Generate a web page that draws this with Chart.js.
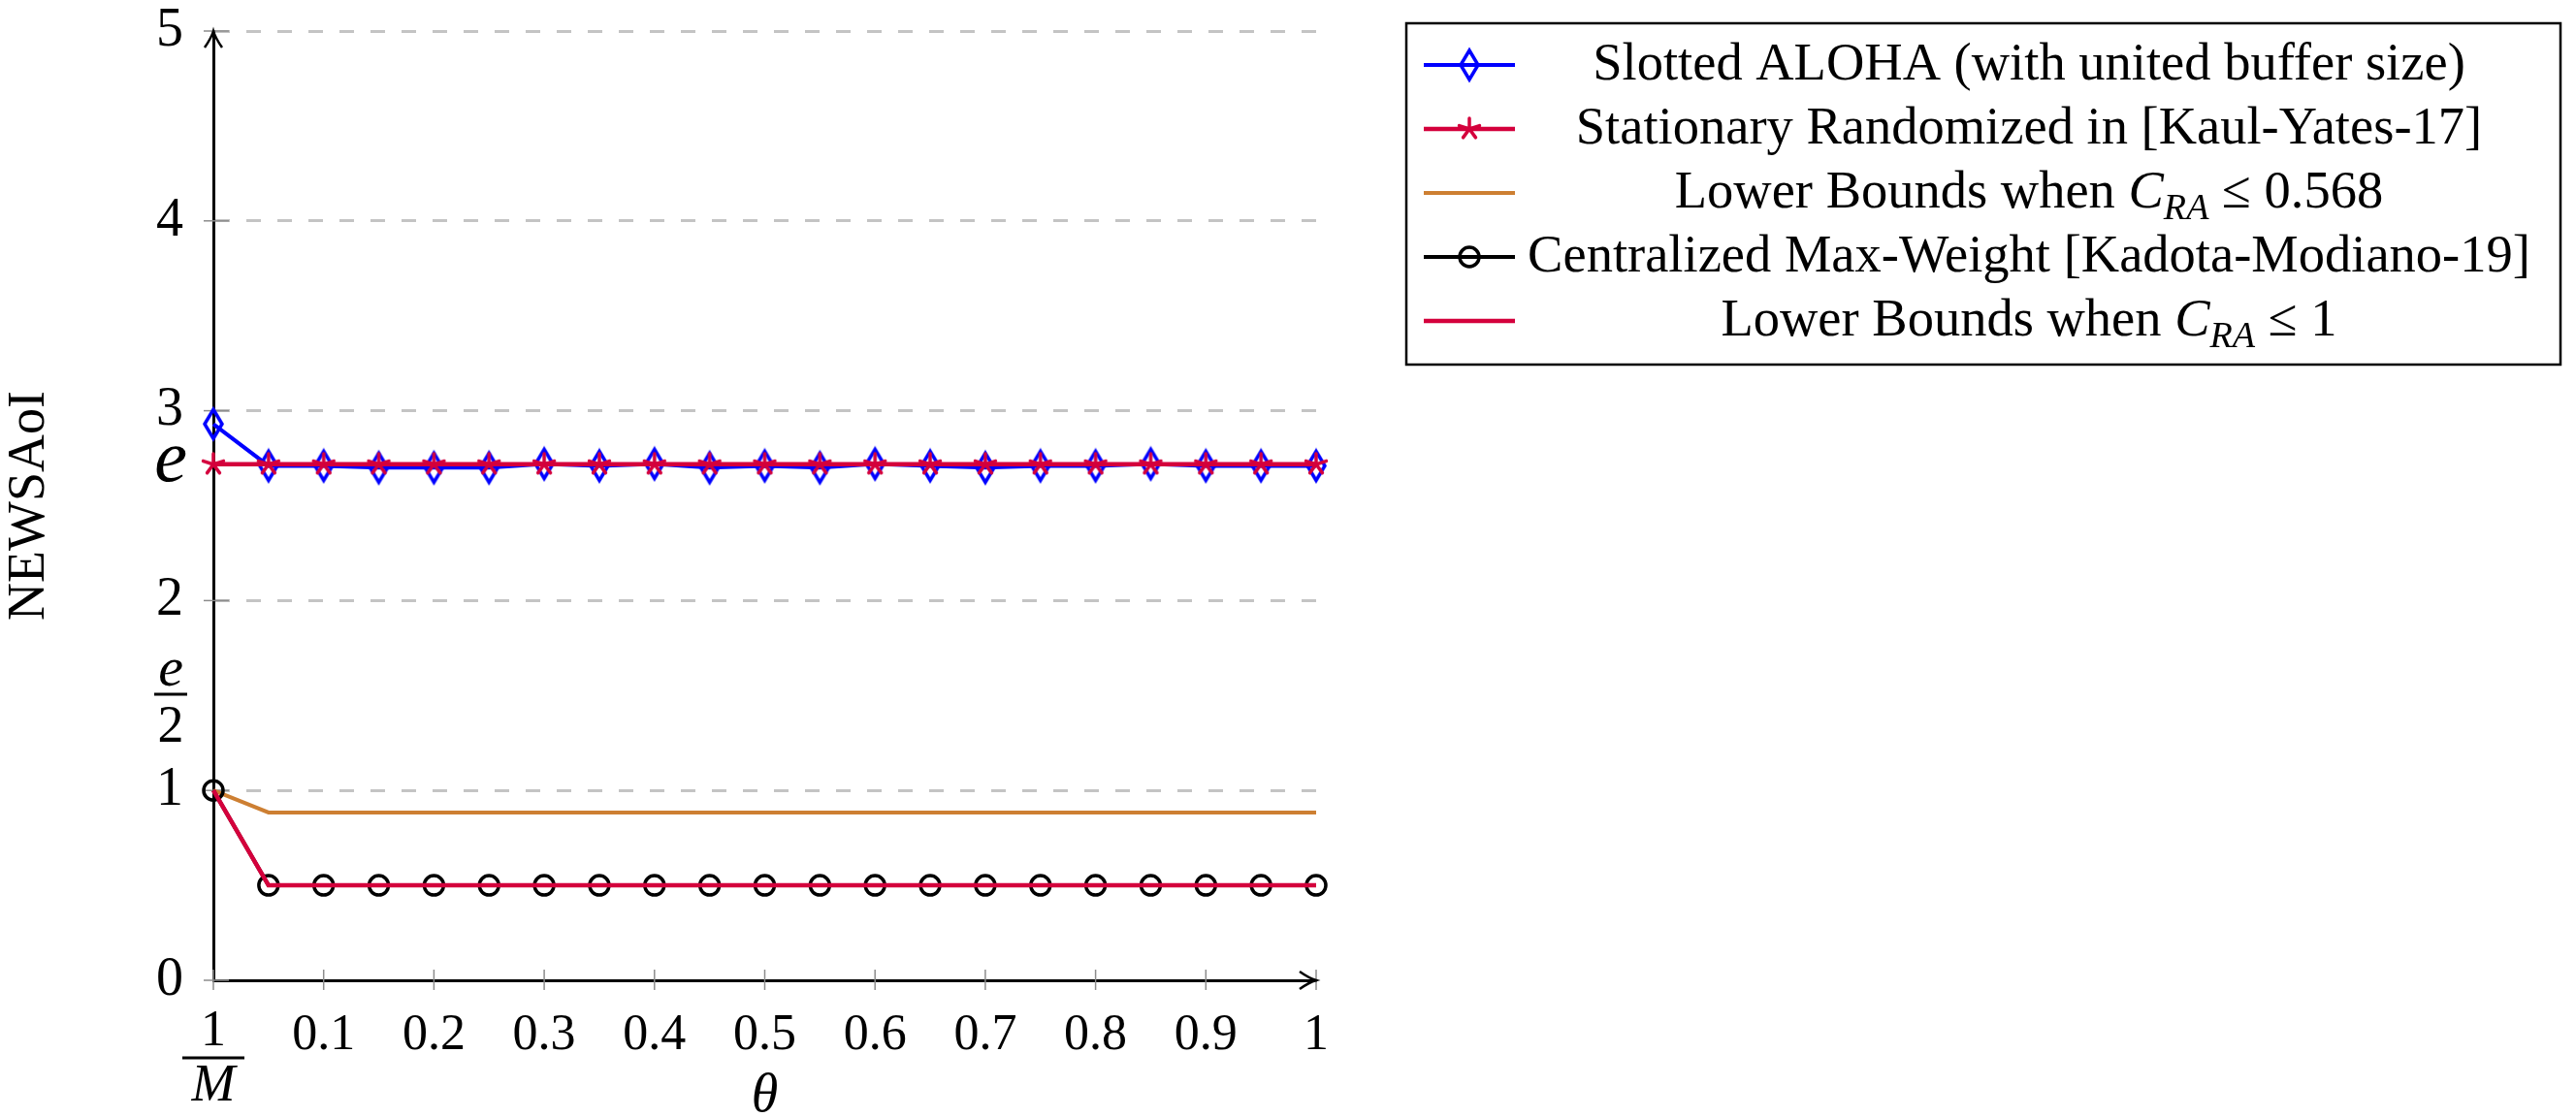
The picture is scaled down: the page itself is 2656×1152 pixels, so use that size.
<!DOCTYPE html>
<html>
<head>
<meta charset="utf-8">
<script src="https://cdn.jsdelivr.net/npm/chart.js@4.4.0/dist/chart.umd.min.js"></script>
<style>
  html, body { margin: 0; padding: 0; background: #fff; }
</style>
</head>
<body>
<canvas id="chart" width="2656" height="1152"></canvas>
<script>
const E = Math.E

// theta values (first point is 1/M, drawn at the origin)
const thetas = [0, 0.05, 0.1, 0.15, 0.2, 0.25, 0.3, 0.35, 0.4, 0.45, 0.5, 0.55, 0.6, 0.65, 0.7, 0.75, 0.8, 0.85, 0.9, 0.95, 1]

const slottedAloha = [2.93, 2.71, 2.71, 2.70, 2.70, 2.70, 2.72, 2.71, 2.72, 2.70, 2.71, 2.70, 2.72, 2.71, 2.70, 2.71, 2.71, 2.72, 2.71, 2.71, 2.71]
const stationaryRandomized = [2.718, 2.718, 2.718, 2.718, 2.718, 2.718, 2.718, 2.718, 2.718, 2.718, 2.718, 2.718, 2.718, 2.718, 2.718, 2.718, 2.718, 2.718, 2.718, 2.718, 2.718]
const lowerBound0568 = [1, 0.884, 0.884, 0.884, 0.884, 0.884, 0.884, 0.884, 0.884, 0.884, 0.884, 0.884, 0.884, 0.884, 0.884, 0.884, 0.884, 0.884, 0.884, 0.884, 0.884]
const maxWeight = [1, 0.5, 0.5, 0.5, 0.5, 0.5, 0.5, 0.5, 0.5, 0.5, 0.5, 0.5, 0.5, 0.5, 0.5, 0.5, 0.5, 0.5, 0.5, 0.5, 0.5]
const lowerBound1 = [1, 0.5, 0.5, 0.5, 0.5, 0.5, 0.5, 0.5, 0.5, 0.5, 0.5, 0.5, 0.5, 0.5, 0.5, 0.5, 0.5, 0.5, 0.5, 0.5, 0.5]

const xTicks = [0, 0.1, 0.2, 0.3, 0.4, 0.5, 0.6, 0.7, 0.8, 0.9, 1]
const yTicks = [0, 1, E / 2, 2, E, 3, 4, 5]

const seriesNames = [
    'Slotted ALOHA (with united buffer size)',
    'Stationary Randomized in [Kaul-Yates-17]',
    'Lower Bounds when C_RA ≤ 0.568',
    'Centralized Max-Weight [Kadota-Modiano-19]',
    'Lower Bounds when C_RA ≤ 1'
]

const BLUE = '#0000ff'
const CRIMSON = '#d4003c'
const BRONZE = '#cd7f32'
const SERIF = '"Liberation Serif", "DejaVu Serif", serif'

/* marks like the pgfplots ones */
function diamondMark(color){
    const c = document.createElement('canvas')
    c.width = 26; c.height = 38
    const g = c.getContext('2d')
    g.strokeStyle = color
    g.lineWidth = 3.5
    g.beginPath()
    g.moveTo(13, 4); g.lineTo(22, 19); g.lineTo(13, 34); g.lineTo(4, 19)
    g.closePath()
    g.stroke()
    return c
}

function starMark(color){
    const c = document.createElement('canvas')
    c.width = 30; c.height = 30
    const g = c.getContext('2d')
    g.strokeStyle = color
    g.lineWidth = 3.5
    g.lineCap = 'round'
    for(let k = 0; k < 5; k++){
        const a = (-90 + k * 72) * Math.PI / 180
        g.beginPath()
        g.moveTo(15, 15)
        g.lineTo(15 + 11 * Math.cos(a), 15 + 11 * Math.sin(a))
        g.stroke()
    }
    return c
}

const toPoints = arr => thetas.map((t, i) => ({x: t, y: arr[i]}))

const datasets = [
    {
        label: seriesNames[0], data: toPoints(slottedAloha),
        borderColor: BLUE, borderWidth: 4, pointStyle: diamondMark(BLUE), order: 5
    },
    {
        label: seriesNames[1], data: toPoints(stationaryRandomized),
        borderColor: CRIMSON, borderWidth: 4.5, pointStyle: starMark(CRIMSON), order: 4
    },
    {
        label: seriesNames[2], data: toPoints(lowerBound0568),
        borderColor: BRONZE, borderWidth: 4, pointRadius: 0, order: 3
    },
    {
        label: seriesNames[3], data: toPoints(maxWeight),
        borderColor: '#000', borderWidth: 4, pointStyle: 'circle', pointRadius: 10,
        pointBorderWidth: 3.5, pointBorderColor: '#000', pointBackgroundColor: 'rgba(0,0,0,0)', order: 2
    },
    {
        label: seriesNames[4], data: toPoints(lowerBound1),
        borderColor: CRIMSON, borderWidth: 4.5, pointRadius: 0, order: 1
    }
]
datasets.forEach(d => { d.fill = false; d.tension = 0; d.clip = false; d.pointHoverRadius = d.pointRadius })

function arrowHead(ctx, x, y, dir){
    ctx.save()
    ctx.translate(x, y)
    if(dir === 'right') ctx.rotate(Math.PI / 2)
    ctx.strokeStyle = '#000'
    ctx.lineWidth = 2.5
    ctx.beginPath()
    ctx.moveTo(-9, 17)
    ctx.quadraticCurveTo(-2, 7, 0, 0)
    ctx.quadraticCurveTo(2, 7, 9, 17)
    ctx.stroke()
    ctx.restore()
}

function drawRich(ctx, parts, cx, baseline, fs){
    // parts: [text, style]  style: n normal, i italic, s subscript italic
    const fontOf = st => st === 'n' ? `${fs}px ${SERIF}` : (st === 'i' ? `italic ${fs}px ${SERIF}` : `italic ${fs * 0.7}px ${SERIF}`)
    let total = 0
    for(const [t, st] of parts){ ctx.font = fontOf(st); total += ctx.measureText(t).width }
    let x = cx - total / 2
    ctx.textAlign = 'left'
    ctx.textBaseline = 'alphabetic'
    for(const [t, st] of parts){
        ctx.font = fontOf(st)
        ctx.fillText(t, x, baseline + (st === 's' ? fs * 0.22 : 0))
        x += ctx.measureText(t).width
    }
}

const decor = {
    id: 'decor',
    beforeDatasetsDraw(chart){
        const ctx = chart.ctx
        const xs = chart.scales.x, ys = chart.scales.y
        const a = chart.chartArea
        ctx.save()
        ctx.strokeStyle = '#8c8c8c'
        ctx.lineWidth = 1.5
        for(const t of xTicks){
            const px = xs.getPixelForValue(t)
            ctx.beginPath(); ctx.moveTo(px, a.bottom - 11); ctx.lineTo(px, a.bottom + 10); ctx.stroke()
        }
        for(const t of yTicks){
            if(!Number.isInteger(t)) continue
            const py = ys.getPixelForValue(t)
            ctx.beginPath(); ctx.moveTo(a.left - 10, py); ctx.lineTo(a.left + 16, py); ctx.stroke()
        }
        ctx.restore()
        arrowHead(ctx, a.left, a.top, 'up')
        arrowHead(ctx, a.right, a.bottom, 'right')
    },
    afterDraw(chart){
        const ctx = chart.ctx
        const xs = chart.scales.x, ys = chart.scales.y
        const a = chart.chartArea
        ctx.save()
        ctx.fillStyle = '#000'
        ctx.strokeStyle = '#000'
        ctx.textAlign = 'center'
        ctx.textBaseline = 'alphabetic'

        // y labels e and e/2
        const lx = 176
        let py = ys.getPixelForValue(E)
        ctx.font = `italic 76px ${SERIF}`
        ctx.fillText('e', lx, py + 17)
        py = ys.getPixelForValue(E / 2)
        ctx.font = `italic 58px ${SERIF}`
        ctx.fillText('e', lx, py - 38)
        ctx.lineWidth = 3
        ctx.beginPath(); ctx.moveTo(lx - 17, py - 29); ctx.lineTo(lx + 17, py - 29); ctx.stroke()
        ctx.font = `54px ${SERIF}`
        ctx.fillText('2', lx, py + 20)

        // x label 1/M
        const px0 = xs.getPixelForValue(0)
        ctx.font = `52px ${SERIF}`
        ctx.fillText('1', px0, a.bottom + 67)
        ctx.lineWidth = 3
        ctx.beginPath(); ctx.moveTo(px0 - 32, a.bottom + 80); ctx.lineTo(px0 + 32, a.bottom + 80); ctx.stroke()
        ctx.font = `italic 54px ${SERIF}`
        ctx.fillText('M', px0, a.bottom + 124)

        // axis titles
        ctx.font = `italic 56px ${SERIF}`
        ctx.fillText('θ', (a.left + a.right) / 2, a.bottom + 135)
        ctx.save()
        ctx.translate(31, (a.top + a.bottom) / 2)
        ctx.rotate(-Math.PI / 2)
        ctx.font = `54px ${SERIF}`
        ctx.textBaseline = 'middle'
        ctx.fillText('NEWSAoI', 0, 0)
        ctx.restore()

        // legend box
        const box = {left: 1450, top: 24, right: 2640, bottom: 376}
        ctx.lineWidth = 2.5
        ctx.strokeRect(box.left, box.top, box.right - box.left, box.bottom - box.top)
        ctx.font = `100px ${SERIF}`
        let fs = 100 * 1034 / ctx.measureText(seriesNames[3]).width
        fs = Math.max(44, Math.min(58, fs))
        const rowY = [67, 133, 199, 265, 331]
        const textCx = 2092
        chart.data.datasets.forEach((ds, i) => {
            const y = rowY[i]
            ctx.save()
            ctx.strokeStyle = ds.borderColor
            ctx.lineWidth = ds.borderWidth
            ctx.beginPath(); ctx.moveTo(1468, y); ctx.lineTo(1562, y); ctx.stroke()
            if(ds.pointRadius !== 0){
                ctx.strokeStyle = ds.pointBorderColor || ds.borderColor
                ctx.fillStyle = 'rgba(0,0,0,0)'
                ctx.lineWidth = ds.pointBorderWidth || 3
                Chart.helpers.drawPoint(ctx, {pointStyle: ds.pointStyle, radius: ds.pointRadius || 10, borderWidth: ctx.lineWidth, rotation: 0}, 1515, y)
            }
            ctx.restore()
            ctx.fillStyle = '#000'
            const name = ds.label
            if(name.includes('C_RA')){
                const [pre, post] = name.split('C_RA')
                drawRich(ctx, [[pre, 'n'], ['C', 'i'], ['RA', 's'], [post, 'n']], textCx, y + 15, fs)
            } else {
                drawRich(ctx, [[name, 'n']], textCx, y + 15, fs)
            }
        })
        ctx.restore()
    }
}

const ctx = document.getElementById('chart').getContext('2d')
const myChart = new Chart(ctx, {
    type: 'line',
    data: { datasets: datasets },
    options: {
        responsive: false,
        animation: false,
        devicePixelRatio: 1,
        layout: { padding: { left: 0, top: 32, right: 2656 - 1357, bottom: 0 } },
        plugins: { legend: { display: false }, tooltip: { enabled: false } },
        scales: {
            x: {
                type: 'linear', min: 0, max: 1,
                afterBuildTicks: s => { s.ticks = xTicks.map(v => ({value: v})) },
                afterFit: s => { s.height = 1152 - 1011; s.paddingLeft = 0; s.paddingRight = 0 },
                ticks: {
                    autoSkip: false, maxRotation: 0, padding: 18, color: '#000',
                    font: { family: SERIF, size: 52 },
                    callback: v => v === 0 ? '' : (v === 1 ? '1' : v.toFixed(1))
                },
                grid: { display: false },
                border: { display: true, color: '#000', width: 3 }
            },
            y: {
                type: 'linear', min: 0, max: 5,
                afterBuildTicks: s => { s.ticks = yTicks.map(v => ({value: v})) },
                afterFit: s => { s.width = 220; s.paddingTop = 0; s.paddingBottom = 0 },
                ticks: {
                    autoSkip: false, padding: 31, color: '#000',
                    font: { family: SERIF, size: 56 },
                    callback: v => Number.isInteger(v) ? String(v) : ''
                },
                grid: {
                    drawTicks: false,
                    lineWidth: 3,
                    color: c => (Number.isInteger(c.tick.value) && c.tick.value > 0) ? '#c4c4c4' : 'rgba(0,0,0,0)'
                },
                border: { display: true, color: '#000', width: 3, dash: [15, 17] }
            }
        }
    },
    plugins: [decor]
})
</script>
</body>
</html>
